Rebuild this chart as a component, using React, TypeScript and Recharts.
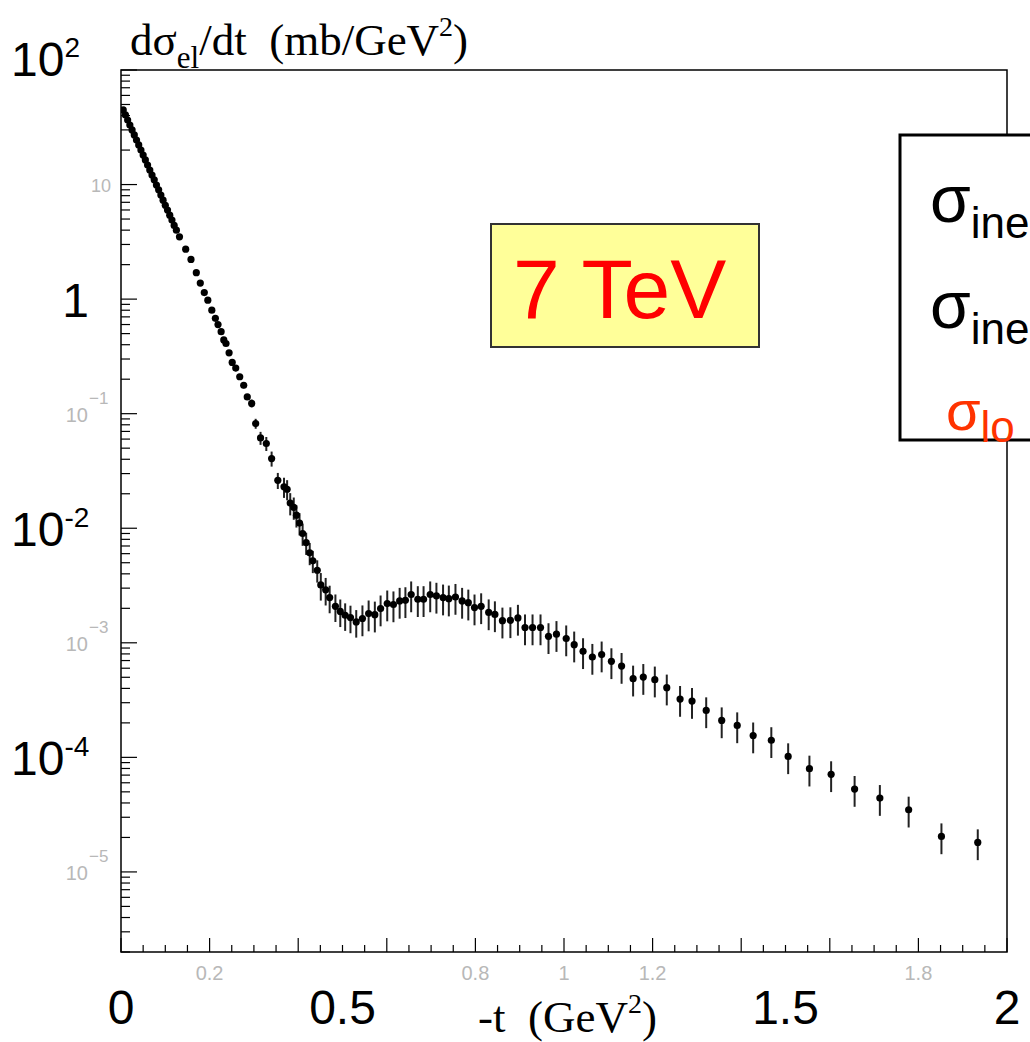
import React from "react";
import { ScatterChart, Scatter, XAxis, YAxis, ErrorBar, ReferenceArea } from "recharts";

// forward peak: dense, overlapping points
const peakT = [0.005, 0.01, 0.015, 0.02, 0.025, 0.03, 0.035, 0.04, 0.045, 0.05, 0.055, 0.06, 0.065, 0.07, 0.075, 0.08, 0.085, 0.09, 0.095, 0.1, 0.105, 0.11, 0.115, 0.12, 0.125];
const peakSigma = [44.8, 40.5, 36.6, 33.1, 30.0, 27.1, 24.5, 22.2, 20.0, 18.1, 16.4, 14.8, 13.4, 12.1, 11.0, 9.9, 9.0, 8.1, 7.3, 6.6, 6.0, 5.4, 4.9, 4.4, 4.0];

const slopeT = [0.132, 0.146, 0.158, 0.17, 0.179, 0.188, 0.196, 0.205, 0.213, 0.219, 0.226, 0.232, 0.237, 0.244];
const slopeSigma = [3.5, 2.73, 2.22, 1.7, 1.38, 1.14, 0.98, 0.8, 0.68, 0.6, 0.52, 0.44, 0.41, 0.34];

// steep part before the dip, error grows point by point
const kneeT = [0.251, 0.259, 0.268, 0.277, 0.285, 0.295, 0.304, 0.315, 0.328, 0.34, 0.354, 0.368, 0.375, 0.382, 0.39, 0.396, 0.403, 0.41, 0.418, 0.426, 0.433, 0.443];
const kneeSigma = [0.28, 0.25, 0.21, 0.177, 0.14, 0.123, 0.082, 0.0614, 0.0549, 0.0406, 0.0262, 0.023, 0.0219, 0.0166, 0.0152, 0.013, 0.0111, 0.009, 0.0075, 0.0061, 0.0052, 0.0043];
const kneeErr = [0.06, 0.06, 0.06, 0.06, 0.06, 0.08, 0.1, 0.13, 0.14, 0.15, 0.16, 0.2, 0.2, 0.22, 0.22, 0.22, 0.22, 0.22, 0.22, 0.22, 0.22, 0.22];

const dipT = [0.451, 0.462, 0.471, 0.484, 0.495, 0.506, 0.518, 0.531];
const dipSigma = [0.0032, 0.0029, 0.00248, 0.00208, 0.00188, 0.00174, 0.00166, 0.00152];

const tailT = [0.545, 0.559, 0.573, 0.586, 0.601, 0.615, 0.629, 0.642, 0.655, 0.67, 0.683, 0.698, 0.712, 0.727, 0.74, 0.755, 0.77, 0.784, 0.798, 0.813, 0.83, 0.844, 0.861, 0.879, 0.896, 0.912, 0.929, 0.947, 0.965, 0.983, 1.005, 1.023, 1.043, 1.064, 1.085, 1.107, 1.13, 1.156, 1.179, 1.205, 1.232, 1.262, 1.289, 1.321, 1.356, 1.391, 1.427, 1.468, 1.506, 1.554, 1.603, 1.656, 1.713, 1.778, 1.852, 1.934];
const tailSigma = [0.00163, 0.0018, 0.00176, 0.00199, 0.0022, 0.00216, 0.00232, 0.00235, 0.00264, 0.0024, 0.0024, 0.00264, 0.00257, 0.00248, 0.00243, 0.00251, 0.00232, 0.00224, 0.00203, 0.00208, 0.00184, 0.00177, 0.00156, 0.00157, 0.00165, 0.00136, 0.00136, 0.00136, 0.00114, 0.00119, 0.00109, 0.000964, 0.000843, 0.000752, 0.000789, 0.000689, 0.000627, 0.000486, 0.000502, 0.000477, 0.000406, 0.000323, 0.00031, 0.000257, 0.00021, 0.00019, 0.000155, 0.000141, 0.000102, 0.0000796, 0.0000711, 0.0000529, 0.0000441, 0.0000349, 0.0000204, 0.0000181];

const X_TICKS = [0, 0.05, 0.1, 0.15, 0.2, 0.25, 0.3, 0.35, 0.4, 0.45, 0.5, 0.55, 0.6, 0.65, 0.7, 0.75, 0.8, 0.85, 0.9, 0.95, 1, 1.05, 1.1, 1.15, 1.2, 1.25, 1.3, 1.35, 1.4, 1.45, 1.5, 1.55, 1.6, 1.65, 1.7, 1.75, 1.8, 1.85, 1.9, 1.95, 2];
const xGreyLabels = ["0.2", "0.8", "1", "1.2", "1.8"];
const xBigLabels = ["0", "0.5", "1.5", "2"];

const Y_MIN = 2e-6;
const Y_MAX = 100;
const decades = [-6, -5, -4, -3, -2, -1, 0, 1];
const mantissas = [1, 2, 3, 4, 5, 6, 7, 8, 9];
const Y_TICKS = [
  ...decades.flatMap((k) => mantissas.map((m) => m * Math.pow(10, k))).filter((v) => v >= Y_MIN),
  100,
];
const yBigExp = [2, 0, -2, -4];
const yGreyExp = [1, -1, -3, -5];

const rel = (ts: number[], ss: number[], e: number | number[]) =>
  ts.map((t, i) => {
    const r = Array.isArray(e) ? e[i] : e;
    return { t, sigma: ss[i], err: [ss[i] * r, ss[i] * r] };
  });

const rows = [
  ...rel(peakT, peakSigma, 0.02),
  ...rel(slopeT, slopeSigma, 0.03),
  ...rel(kneeT, kneeSigma, kneeErr),
  ...rel(dipT, dipSigma, 0.27),
  ...rel(tailT, tailSigma, 0.3),
];

const SANS = "'Liberation Sans', Arial, sans-serif";
const SERIF = "'Liberation Serif', 'Times New Roman', serif";

// plot frame edges: left = margin.left + yAxis width, bottom = height - margin.bottom - xAxis height
const FRAME_LEFT = 121;
const FRAME_BOTTOM = 952;

const fmt = (v: number) => String(Math.round(v * 100) / 100);

const XTick = (props: any) => {
  const { x, payload } = props;
  const y = FRAME_BOTTOM;
  const v = payload.value;
  const major = Math.abs(v * 5 - Math.round(v * 5)) < 1e-6;
  const label = fmt(v);
  return (
    <g>
      <line x1={x} x2={x} y1={y} y2={y - (major ? 14 : 7)} stroke="#000" strokeWidth={1.2} />
      {xGreyLabels.includes(label) && (
        <text x={x} y={y + 28} textAnchor="middle" fontFamily={SANS} fontSize={20} fill="#b8b8b8">
          {label}
        </text>
      )}
      {xBigLabels.includes(label) && (
        <text x={x} y={y + 72} textAnchor="middle" fontFamily={SANS} fontSize={48} fill="#000">
          {label}
        </text>
      )}
    </g>
  );
};

const YTick = (props: any) => {
  const { y, payload } = props;
  const x = FRAME_LEFT;
  const lg = Math.log10(payload.value);
  const exp = Math.round(lg);
  const major = Math.abs(lg - exp) < 1e-6;
  return (
    <g>
      <line x1={x} x2={x + (major ? 16 : 9)} y1={y} y2={y} stroke="#000" strokeWidth={1.2} />
      {major && yBigExp.includes(exp) &&
        (exp === 0 ? (
          <text x={x - 32} y={y + 18} textAnchor="end" fontFamily={SANS} fontSize={48} fill="#000">
            1
          </text>
        ) : (
          <text x={11} y={y + 18 - (exp === 2 ? 12 : 0)} fontFamily={SANS} fontSize={48} fill="#000">
            10
            <tspan fontSize={28} dy={-19}>
              {exp > 0 ? String(exp) : "-" + -exp}
            </tspan>
          </text>
        ))}
      {major && yGreyExp.includes(exp) &&
        (exp === 1 ? (
          <text x={x - 10} y={y + 7} textAnchor="end" fontFamily={SANS} fontSize={18} fill="#b8b8b8">
            10
          </text>
        ) : (
          <g>
            <text x={x - 33} y={y + 8} textAnchor="end" fontFamily={SANS} fontSize={20} fill="#b8b8b8">
              10
            </text>
            <text x={x - 32} y={y - 10} fontFamily={SANS} fontSize={17} fill="#b8b8b8">
              {"\u2212" + -exp}
            </text>
          </g>
        ))}
    </g>
  );
};

const Dot = (props: any) => <circle cx={props.cx} cy={props.cy} r={3.6} fill="#000" />;

export default function App() {
  return (
    <div style={{ position: "absolute", left: 0, top: 0, width: 1030, height: 1042, overflow: "hidden", background: "#fff" }}>
      <ScatterChart width={1030} height={1042} margin={{ top: 70, right: 23, bottom: 50, left: 61 }}>
        <XAxis
          type="number"
          dataKey="t"
          domain={[0, 2]}
          ticks={X_TICKS}
          interval={0}
          height={40}
          tickSize={4}
          tickMargin={2}
          axisLine={false}
          tickLine={false}
          tick={(p: any) => <XTick {...p} />}
          allowDataOverflow
        />
        <YAxis
          type="number"
          dataKey="sigma"
          scale="log"
          domain={[Y_MIN, Y_MAX]}
          ticks={Y_TICKS}
          interval={0}
          width={60}
          tickSize={4}
          tickMargin={2}
          axisLine={false}
          tickLine={false}
          tick={(p: any) => <YTick {...p} />}
          allowDataOverflow
        />
        <ReferenceArea x1={0} x2={2} y1={Y_MIN} y2={Y_MAX} fill="none" stroke="#000" strokeWidth={1.5} />
        <Scatter data={rows} fill="#000" shape={Dot} isAnimationActive={false}>
          <ErrorBar dataKey="err" direction="y" width={0} stroke="#222" strokeWidth={2} isAnimationActive={false} />
        </Scatter>
      </ScatterChart>

      <svg width={1030} height={1042} style={{ position: "absolute", left: 0, top: 0, pointerEvents: "none" }}>
        <text x={130} y={55} fontFamily={SERIF} fontSize={45} fill="#000" style={{ whiteSpace: "pre" }}>
          dσ
          <tspan fontSize={31} dy={13}>el</tspan>
          <tspan dy={-13}>/dt  (mb/GeV</tspan>
          <tspan fontSize={28} dy={-19}>2</tspan>
          <tspan dy={19}>)</tspan>
        </text>
        <text x={478} y={1032} fontFamily={SERIF} fontSize={45} fill="#000" style={{ whiteSpace: "pre" }}>
          -t  (GeV
          <tspan fontSize={28} dy={-19}>2</tspan>
          <tspan dy={19}>)</tspan>
        </text>

        <rect x={491} y={224} width={268} height={123} fill="#ffff99" stroke="#333" strokeWidth={2} />
        <text x={513} y={318} fontFamily={SANS} fontSize={84} fill="#ff0000">
          7 TeV
        </text>

        <rect x={900} y={135} width={200} height={305} fill="#fff" stroke="#000" strokeWidth={3} />
        <text x={930} y={222} fontFamily={SANS} fontSize={66} fill="#000">
          σ<tspan fontSize={44} dy={16}>inel</tspan>
        </text>
        <text x={930} y={328} fontFamily={SANS} fontSize={66} fill="#000">
          σ<tspan fontSize={44} dy={16}>inel</tspan>
        </text>
        <text x={946} y={430} fontFamily={SANS} fontSize={56} fill="#ff3300">
          σ<tspan fontSize={44} dy={12}>lo</tspan>
        </text>
      </svg>
    </div>
  );
}
